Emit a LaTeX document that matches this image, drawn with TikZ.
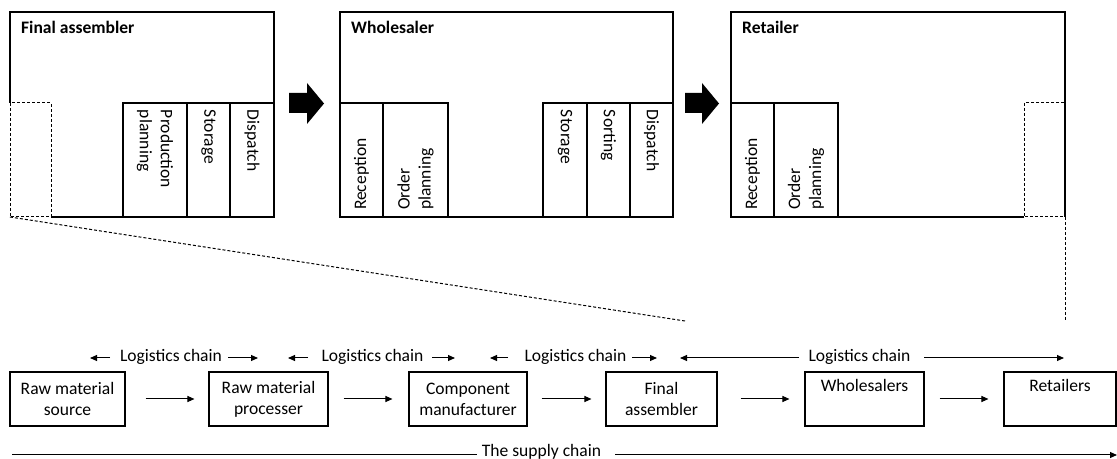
\documentclass[tikz,border=0pt]{standalone}
\usepackage{fontspec}
\setmainfont{Carlito}
\usetikzlibrary{arrows.meta}

\begin{document}
\begin{tikzpicture}[x=1bp,y=-1bp,
  every node/.style={font=\fontsize{17.6}{21}\selectfont, inner sep=0pt},
  frame/.style={line width=1.1bp},
  zoomline/.style={line width=1bp, dash pattern=on 3bp off 2bp},
  title/.style={anchor=base west, font=\fontsize{17.6}{21}\selectfont\bfseries},
  celldown/.style={draw, line width=1.1bp, rotate=-90, text width=100bp,
    inner xsep=7bp, inner ysep=0pt, align=left, minimum height=#1},
  cellup/.style={draw, line width=1.1bp, rotate=90, text width=100bp,
    inner xsep=7bp, inner ysep=0pt, align=left, minimum height=#1},
  bigarrow/.style={fill=black},
  stage/.style={draw, line width=1.1bp, minimum height=54bp, minimum width=#1, align=center},
  flow/.style={-{Triangle[length=7bp,width=6bp]}, line width=1bp},
]
\useasboundingbox (0,0) rectangle (1117,459);

% ---------- Final assembler ----------
\draw[frame] (10,103) -- (10,12) -- (274,12) -- (274,217) -- (51,217);
\draw[zoomline] (10,103) rectangle (51,217);
\coordinate (faz) at (10,217);
\node[title] (fat) at (21,34) {Final assembler};
\node[celldown=64bp] (fa1) at (155,160) {Production\\planning};
\node[celldown=43bp] (fa2) at (208.5,160) {Storage};
\node[celldown=44bp] (fa3) at (252,160) {Dispatch};

% ---------- Wholesaler ----------
\draw[frame] (340,12) rectangle (673,217);
\node[title] (wst) at (351,34) {Wholesaler};
\node[cellup=43bp] (ws1) at (361.5,160) {Reception};
\node[cellup=65bp] (ws2) at (415.5,160) {Order\\planning};
\node[celldown=44bp] (ws3) at (565,160) {Storage};
\node[celldown=43bp] (ws4) at (608.5,160) {Sorting};
\node[celldown=43bp] (ws5) at (651.5,160) {Dispatch};

% ---------- Retailer ----------
\draw[frame] (1024,217) -- (731,217) -- (731,12) -- (1065,12) -- (1065,217);
\draw[zoomline] (1024,103) rectangle (1065,217);
\coordinate (rtz) at (1065,217);
\node[title] (rtt) at (742,34) {Retailer};
\node[cellup=43bp] (rt1) at (752.5,160) {Reception};
\node[cellup=64bp] (rt2) at (806,160) {Order\\planning};

% ---------- block arrows between the stages ----------
\fill[bigarrow] (289,93) -- (307,93) -- (307,83) -- (324,103.5) -- (307,124) -- (307,113) -- (289,113) -- cycle;
\fill[bigarrow] (685,93) -- (702,93) -- (702,83) -- (719,103.5) -- (702,124) -- (702,113) -- (685,113) -- cycle;

% ---------- zoom lines down to the chain ----------
\coordinate (faend) at (685,321);
\coordinate (rtend) at (1065,320);
\draw[zoomline] (faz) -- (faend);
\draw[zoomline] (rtz) -- (rtend);

% ---------- supply chain stages ----------
\node[stage=115bp] (s1) at (67.5,399) {Raw material\\source};
\node[stage=119bp] (s2) at (268.5,399) {Raw material\\processer};
\node[stage=118bp] (s3) at (468,399) {Component\\manufacturer};
\node[stage=111bp] (s4) at (661.5,399) {Final\\assembler};
\node[stage=119bp] (s5) at (864.5,399) {Wholesalers\\\strut};
\node[stage=112bp] (s6) at (1060,399) {Retailers\\\strut};

\draw[flow] ([xshift=20bp]s1.east) -- ([xshift=-14bp]s2.west);
\draw[flow] ([xshift=15bp]s2.east) -- ([xshift=-16bp]s3.west);
\draw[flow] ([xshift=14bp]s3.east) -- ([xshift=-14bp]s4.west);
\draw[flow] ([xshift=23bp]s4.east) -- ([xshift=-15bp]s5.west);
\draw[flow] ([xshift=15bp]s5.east) -- ([xshift=-15bp]s6.west);

% ---------- logistics chains ----------
\node (lc1) at (171,357) {Logistics chain};
\node (lc2) at (372.5,357) {Logistics chain};
\node (lc3) at (575.5,357) {Logistics chain};
\node (lc4) at (859.5,357) {Logistics chain};

\coordinate (l1a) at (110,358); \coordinate (l1b) at (90,358);
\coordinate (l1c) at (228,358); \coordinate (l1d) at (258,358);
\coordinate (l2a) at (308,358); \coordinate (l2b) at (288,358);
\coordinate (l2c) at (432,358); \coordinate (l2d) at (455,358);
\coordinate (l3a) at (508,358); \coordinate (l3b) at (490,358);
\coordinate (l3c) at (632,358); \coordinate (l3d) at (657,358);
\coordinate (l4a) at (799,358); \coordinate (l4b) at (680,358);
\coordinate (l4c) at (924,358); \coordinate (l4d) at (1064,358);

\draw[flow] (l1a) -- (l1b); \draw[flow] (l1c) -- (l1d);
\draw[flow] (l2a) -- (l2b); \draw[flow] (l2c) -- (l2d);
\draw[flow] (l3a) -- (l3b); \draw[flow] (l3c) -- (l3d);
\draw[flow] (l4a) -- (l4b); \draw[flow] (l4c) -- (l4d);

% ---------- the supply chain ----------
\node[anchor=base] (sc) at (541.5,456) {The supply chain};
\coordinate (sca) at (12,455);
\coordinate (scb) at (477,455);
\coordinate (scc) at (615,455);
\coordinate (scd) at (1117,455);
\draw[line width=1bp] (sca) -- (scb);
\draw[flow] (scc) -- (scd);
\end{tikzpicture}
\end{document}
